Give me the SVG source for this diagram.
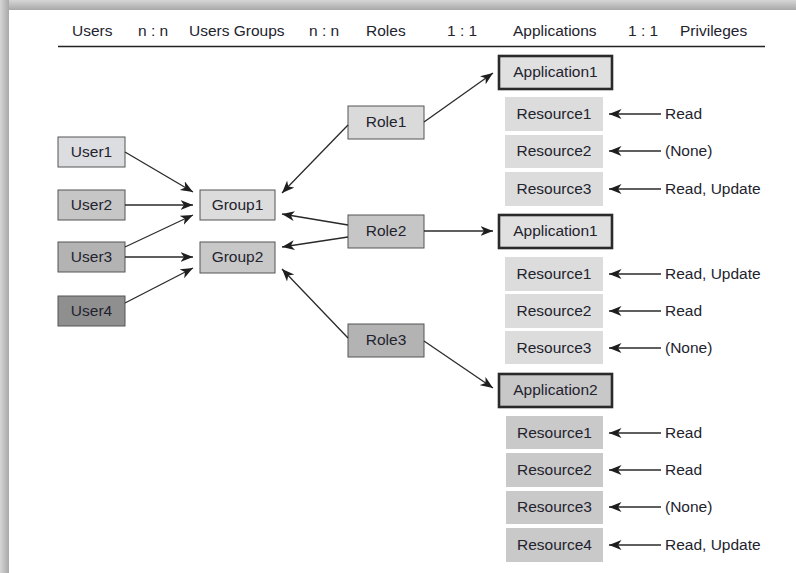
<svg xmlns="http://www.w3.org/2000/svg" width="796" height="573" viewBox="0 0 796 573">
  <defs>
    <linearGradient id="shadeTop" x1="0" y1="0" x2="0" y2="1">
      <stop offset="0" stop-color="#d6d6d6"/>
      <stop offset="1" stop-color="#a8a8a8"/>
    </linearGradient>
    <linearGradient id="shadeLeft" x1="0" y1="0" x2="1" y2="0">
      <stop offset="0" stop-color="#d6d6d6"/>
      <stop offset="1" stop-color="#a8a8a8"/>
    </linearGradient>
    <marker id="arrow" markerUnits="userSpaceOnUse" markerWidth="14" markerHeight="11" refX="12.5" refY="5" orient="auto">
      <path d="M0,0 L12.5,5 L0,10 L3.5,5 Z" fill="#1e1e1e"/>
    </marker>
    <style>
      text { font-family: "Liberation Sans", Arial, sans-serif; font-size: 15.5px; fill: #23232e; }
      .lbl { text-anchor: middle; }
      .box { stroke: #555; stroke-width: 1; }
      .app { stroke: #2a2a2a; stroke-width: 2.6; }
      .res1 { fill: #dcdcdc; }
      .res2 { fill: #c9c9c9; }
      .conn line { stroke: #2a2a2a; stroke-width: 1.3; marker-end: url(#arrow); }
    </style>
  </defs>

  <!-- page and its shadow -->
  <rect x="0" y="0" width="796" height="573" fill="#ffffff"/>
  <rect x="0" y="0" width="796" height="10" fill="url(#shadeTop)"/>
  <rect x="0" y="0" width="9" height="573" fill="url(#shadeLeft)"/>

  <!-- column header -->
  <g id="header">
    <text x="72" y="36">Users</text>
    <text x="138" y="36">n : n</text>
    <text x="189" y="36">Users Groups</text>
    <text x="309" y="36">n : n</text>
    <text x="366" y="36">Roles</text>
    <text x="447" y="36">1 : 1</text>
    <text x="513" y="36">Applications</text>
    <text x="628" y="36">1 : 1</text>
    <text x="680" y="36">Privileges</text>
    <line x1="58" y1="46.5" x2="765" y2="46.5" stroke="#222" stroke-width="1.4"/>
  </g>

  <!-- users -->
  <g id="user1"><rect class="box" x="58" y="137" width="67" height="30" fill="#dcdde0"/><text class="lbl" x="91.5" y="157">User1</text></g>
  <g id="user2"><rect class="box" x="58" y="190" width="67" height="30" fill="#c6c6c6"/><text class="lbl" x="91.5" y="210">User2</text></g>
  <g id="user3"><rect class="box" x="58" y="242" width="67" height="30" fill="#b3b3b3"/><text class="lbl" x="91.5" y="262">User3</text></g>
  <g id="user4"><rect class="box" x="58" y="296" width="67" height="30" fill="#8f8f8f"/><text class="lbl" x="91.5" y="316">User4</text></g>

  <!-- groups -->
  <g id="group1"><rect class="box" x="200" y="190" width="75" height="30" fill="#dcdcdc"/><text class="lbl" x="237.5" y="210">Group1</text></g>
  <g id="group2"><rect class="box" x="200" y="242" width="75" height="31" fill="#c8c8c8"/><text class="lbl" x="237.5" y="262">Group2</text></g>

  <!-- roles -->
  <g id="role1"><rect class="box" x="348" y="106" width="76" height="33" fill="#dadada"/><text class="lbl" x="386" y="127">Role1</text></g>
  <g id="role2"><rect class="box" x="348" y="215" width="76" height="33" fill="#c6c6c6"/><text class="lbl" x="386" y="236">Role2</text></g>
  <g id="role3"><rect class="box" x="348" y="324" width="76" height="33" fill="#b3b3b3"/><text class="lbl" x="386" y="345">Role3</text></g>

  <!-- applications -->
  <g id="app1a"><rect class="app" x="499" y="56" width="113" height="33" fill="#e0e0e0"/><text class="lbl" x="555.5" y="77">Application1</text></g>
  <g id="app1b"><rect class="app" x="499" y="215" width="113" height="33" fill="#e0e0e0"/><text class="lbl" x="555.5" y="236">Application1</text></g>
  <g id="app2"><rect class="app" x="499" y="374" width="113" height="33" fill="#c8c8c8"/><text class="lbl" x="555.5" y="395">Application2</text></g>

  <!-- resources of the first Application1 -->
  <g id="res-a1"><rect class="res1" x="505" y="97" width="98" height="34"/><text class="lbl" x="554" y="119">Resource1</text></g>
  <g id="res-a2"><rect class="res1" x="505" y="135" width="98" height="33"/><text class="lbl" x="554" y="156">Resource2</text></g>
  <g id="res-a3"><rect class="res1" x="505" y="172" width="98" height="34"/><text class="lbl" x="554" y="194">Resource3</text></g>

  <!-- resources of the second Application1 -->
  <g id="res-b1"><rect class="res1" x="505" y="257" width="98" height="34"/><text class="lbl" x="554" y="279">Resource1</text></g>
  <g id="res-b2"><rect class="res1" x="505" y="294" width="98" height="34"/><text class="lbl" x="554" y="316">Resource2</text></g>
  <g id="res-b3"><rect class="res1" x="505" y="331" width="98" height="33"/><text class="lbl" x="554" y="353">Resource3</text></g>

  <!-- resources of Application2 -->
  <g id="res-c1"><rect class="res2" x="506" y="416" width="97" height="33"/><text class="lbl" x="554.5" y="438">Resource1</text></g>
  <g id="res-c2"><rect class="res2" x="506" y="453" width="97" height="34"/><text class="lbl" x="554.5" y="475">Resource2</text></g>
  <g id="res-c3"><rect class="res2" x="506" y="491" width="97" height="33"/><text class="lbl" x="554.5" y="512">Resource3</text></g>
  <g id="res-c4"><rect class="res2" x="506" y="528" width="97" height="34"/><text class="lbl" x="554.5" y="550">Resource4</text></g>

  <!-- privilege labels -->
  <g id="privileges">
    <text x="665" y="119">Read</text>
    <text x="665" y="156">(None)</text>
    <text x="665" y="194">Read, Update</text>
    <text x="665" y="279">Read, Update</text>
    <text x="665" y="316">Read</text>
    <text x="665" y="353">(None)</text>
    <text x="665" y="438">Read</text>
    <text x="665" y="475">Read</text>
    <text x="665" y="512">(None)</text>
    <text x="665" y="550">Read, Update</text>
  </g>

  <!-- connectors -->
  <g id="connectors" class="conn">
    <!-- users to groups -->
    <line x1="125" y1="152" x2="193" y2="192"/>
    <line x1="125" y1="205" x2="193" y2="205"/>
    <line x1="125" y1="247" x2="193" y2="215"/>
    <line x1="125" y1="257" x2="193" y2="257"/>
    <line x1="125" y1="303" x2="193" y2="268"/>
    <!-- roles to groups -->
    <line x1="348" y1="125" x2="282" y2="193"/>
    <line x1="348" y1="225" x2="282" y2="214"/>
    <line x1="348" y1="237" x2="282" y2="247"/>
    <line x1="348" y1="338" x2="282" y2="269"/>
    <!-- roles to applications -->
    <line x1="424" y1="122" x2="493" y2="73"/>
    <line x1="424" y1="231" x2="493" y2="231"/>
    <line x1="424" y1="341" x2="493" y2="388"/>
    <!-- privileges to resources -->
    <line x1="661" y1="114" x2="609" y2="114"/>
    <line x1="661" y1="151" x2="609" y2="151"/>
    <line x1="661" y1="189" x2="609" y2="189"/>
    <line x1="661" y1="274" x2="609" y2="274"/>
    <line x1="661" y1="311" x2="609" y2="311"/>
    <line x1="661" y1="348" x2="609" y2="348"/>
    <line x1="661" y1="433" x2="609" y2="433"/>
    <line x1="661" y1="470" x2="609" y2="470"/>
    <line x1="661" y1="507" x2="609" y2="507"/>
    <line x1="661" y1="545" x2="609" y2="545"/>
  </g>
</svg>
